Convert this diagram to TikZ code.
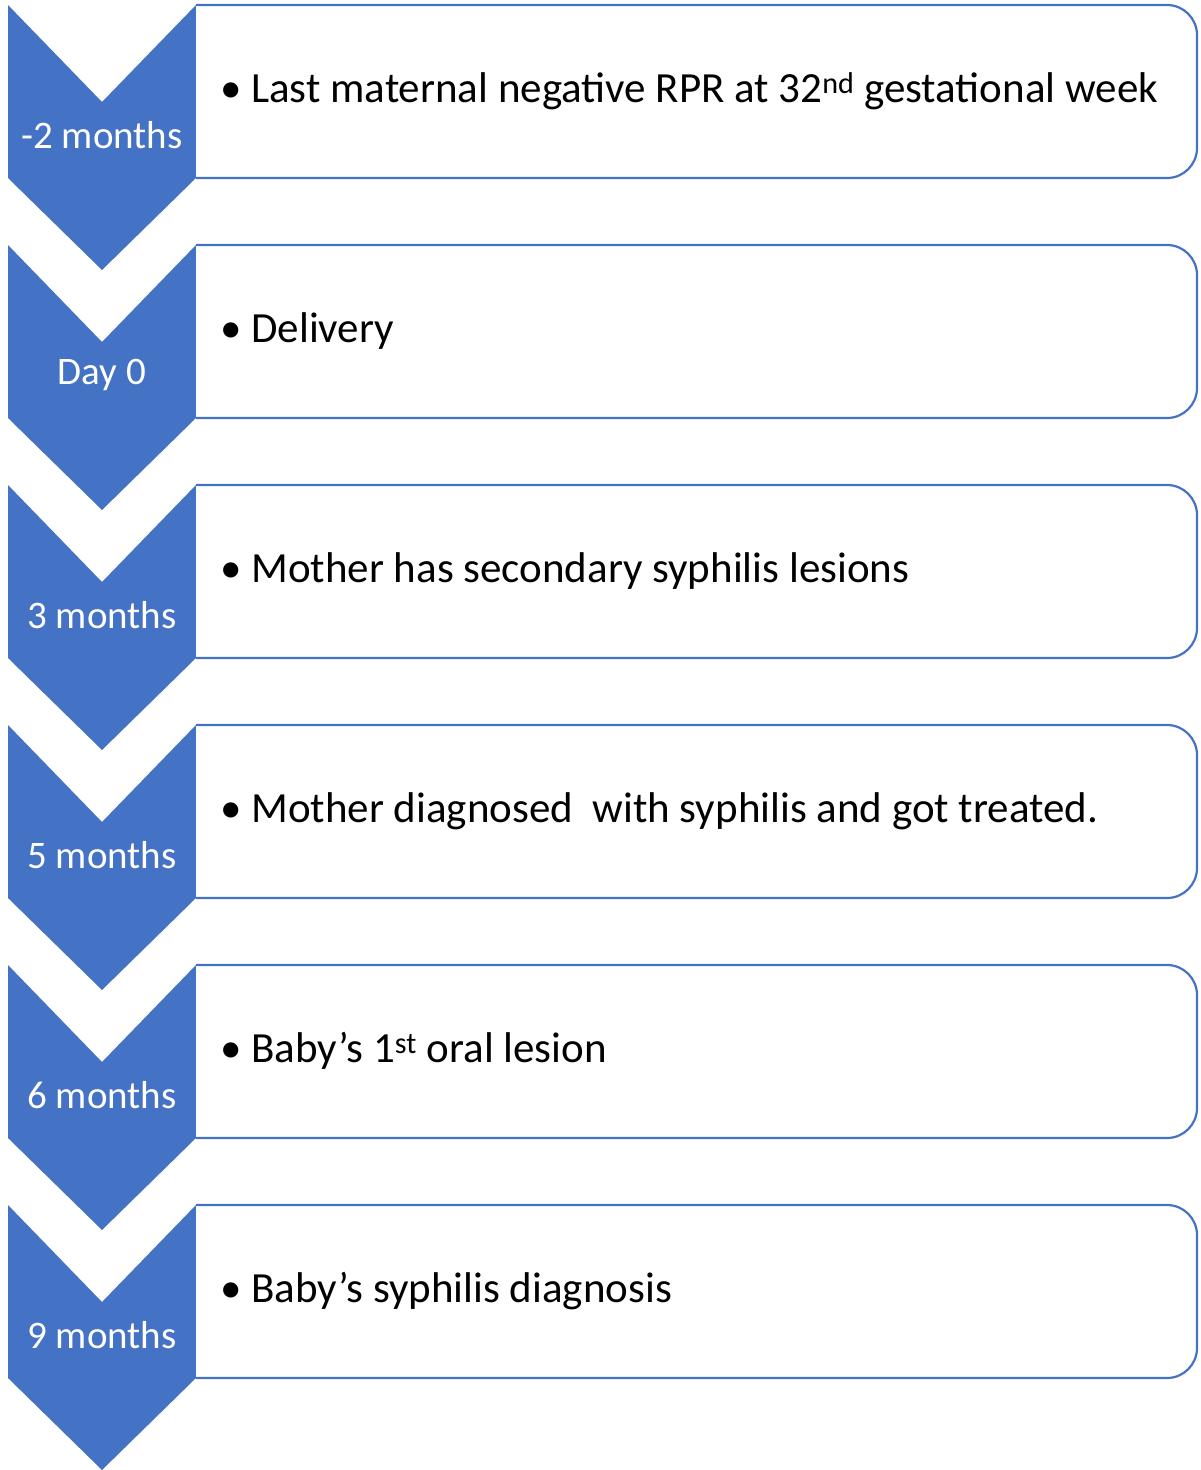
\documentclass[tikz,border=0pt]{standalone}
\usepackage{fontspec}
\setmainfont{Carlito}
\definecolor{cblue}{HTML}{4472C4}
\begin{document}
\begin{tikzpicture}[x=1pt,y=-1pt,
  chev/.style={fill=cblue,draw=none},
  boxline/.style={draw=cblue,line width=2.2pt,fill=white},
  lbl/.style={text=white,font=\fontsize{39}{44}\selectfont,inner sep=0pt},
  itm/.style={anchor=west,font=\fontsize{43}{48}\selectfont,inner sep=0pt}]
\useasboundingbox (0,0) rectangle (1200,1470);
\foreach \i/\lab/\txt in {0/{-2 months}/{• Last maternal negative RPR at 32\textsuperscript{nd} gestational week},
  1/{Day 0}/{• Delivery},
  2/{3 months}/{• Mother has secondary syphilis lesions},
  3/{5 months}/{• Mother diagnosed\ \ with syphilis and got treated.},
  4/{6 months}/{• Baby’s 1\textsuperscript{st} oral lesion},
  5/{9 months}/{• Baby’s syphilis diagnosis}}{
  \pgfmathsetmacro{\t}{5+240*\i}
  \fill[cblue] (8,\t) -- (102,\t+97) -- (196,\t) -- (196,\t+173) -- (102,\t+265) -- (8,\t+173) -- cycle;
  \draw[boxline] (196,\t) -- (1160,\t) [rounded corners=30pt] -- (1197,\t) -- (1197,\t+173) [sharp corners] -- (1160,\t+173) -- (196,\t+173);
  \node[lbl] (l\i) at (102,\t+130) {\lab};
  \node[itm] (t\i) at (220,\t+86) {\txt};
}
\end{tikzpicture}
\end{document}
